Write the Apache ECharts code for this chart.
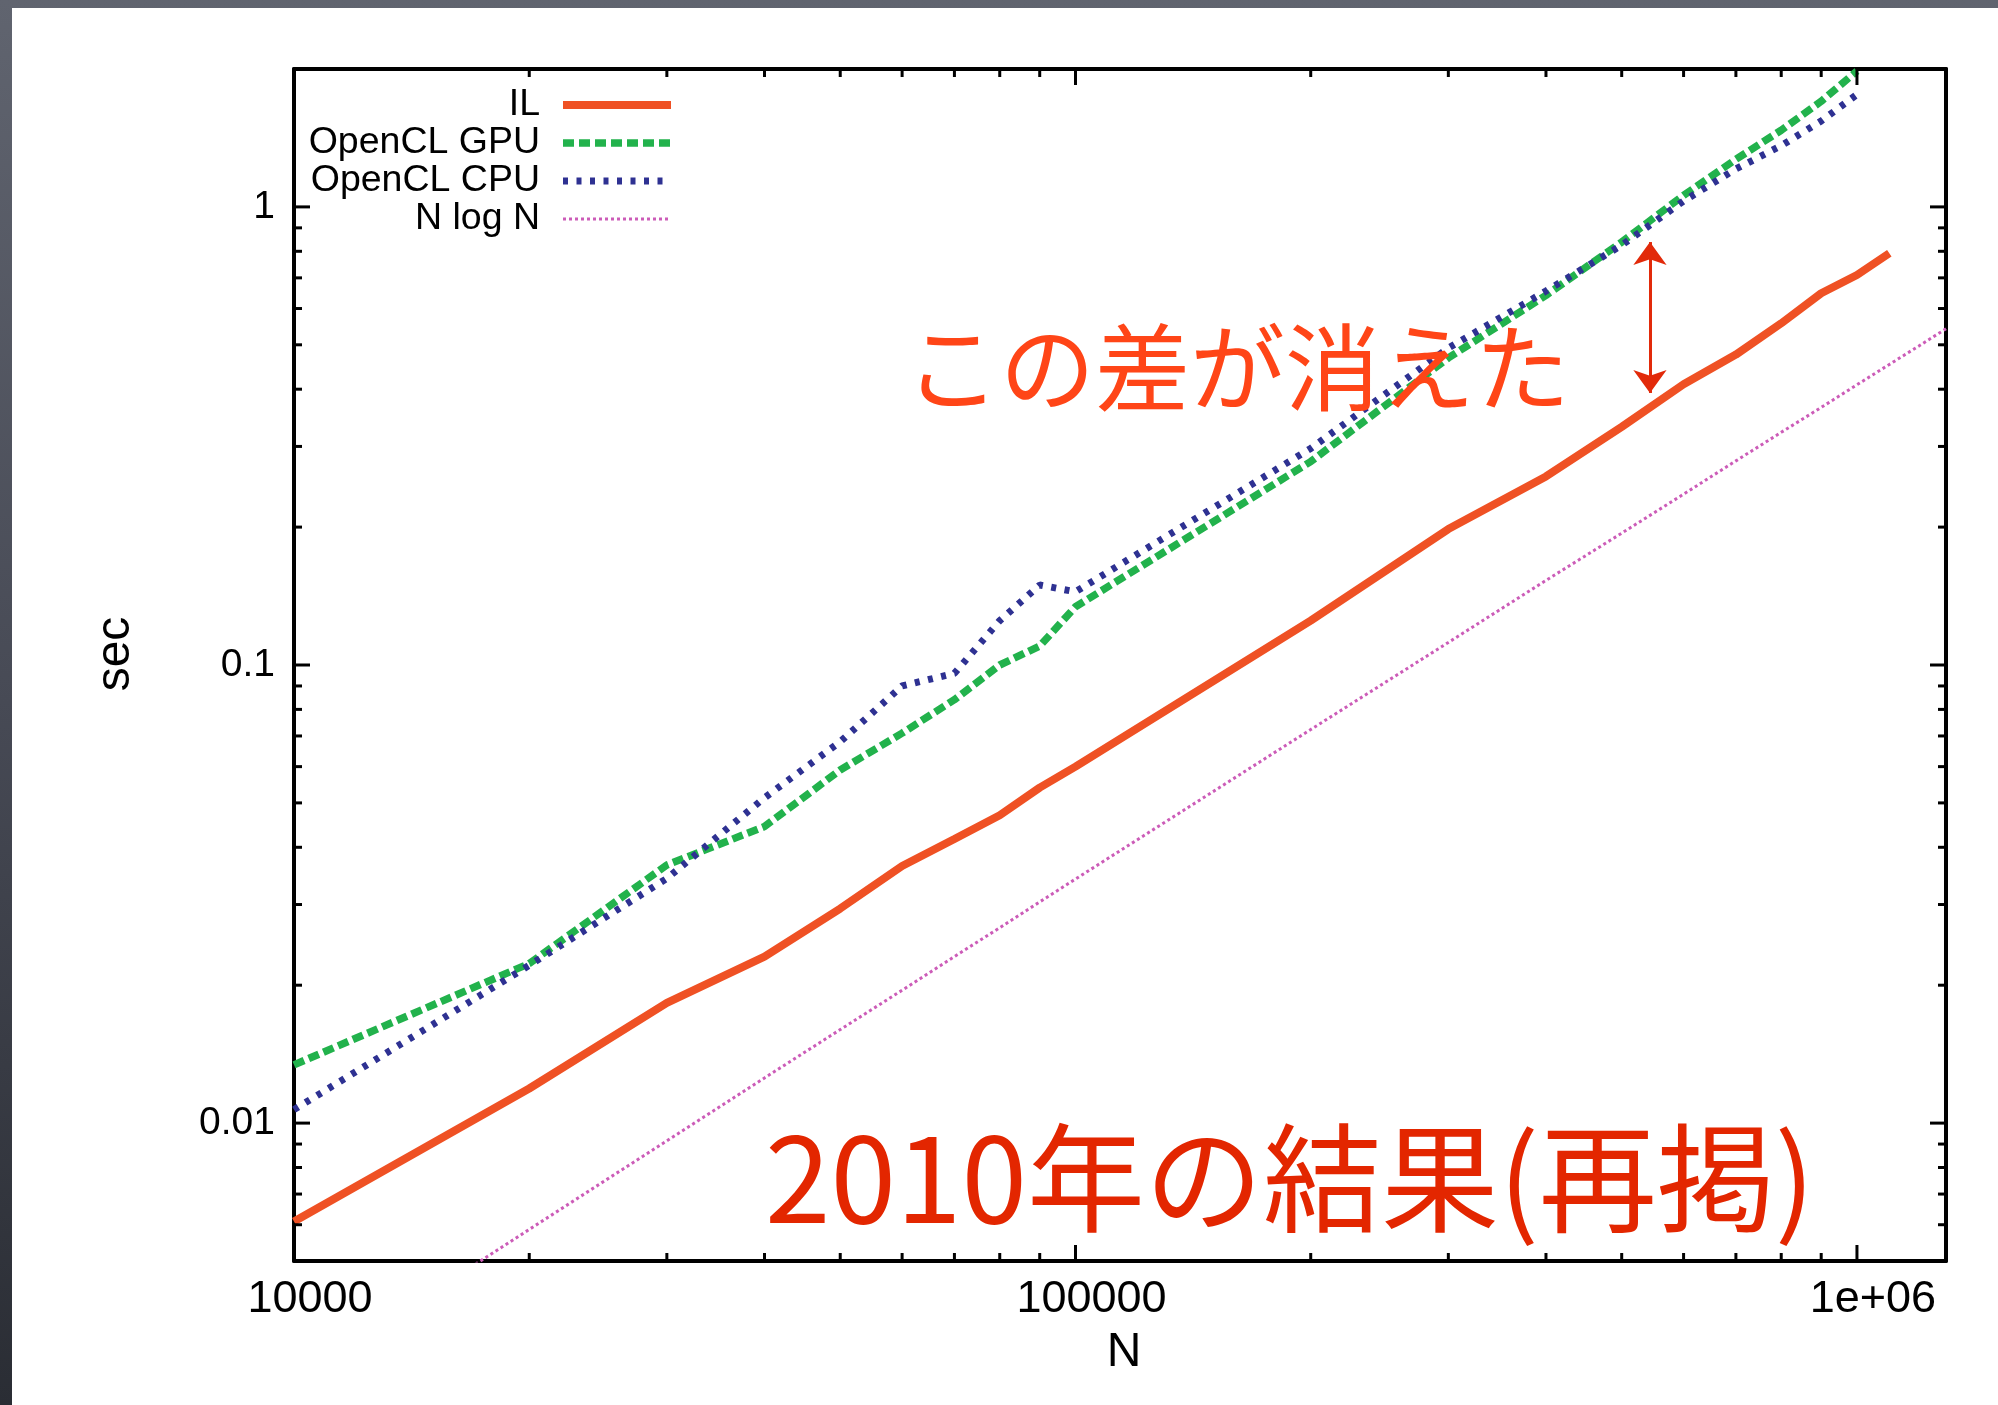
<!DOCTYPE html>
<html>
<head>
<meta charset="utf-8">
<script src="https://cdn.jsdelivr.net/npm/echarts@6/dist/echarts.min.js"></script>
<style>
html,body{margin:0;padding:0;width:1998px;height:1405px;overflow:hidden;
  background:linear-gradient(to bottom,#60646f 0%,#474a55 50%,#2a2d34 100%);}
#chart{position:absolute;left:12px;top:8px;width:1986px;height:1397px;background:#ffffff;}
</style>
</head>
<body>
<div id="chart"></div>
<script>
// ---- data ----
const nIL = [10000,20000,30000,40000,50000,60000,70000,80000,90000,100000,
             200000,300000,400000,500000,600000,700000,800000,900000,1000000,1100000];
const secIL = [0.0061,0.0119,0.0183,0.0231,0.0294,0.0364,0.0417,0.0470,0.0540,0.0600,
               0.125,0.198,0.258,0.331,0.410,0.476,0.557,0.648,0.710,0.792];

const nCL = [10000,20000,30000,40000,50000,60000,70000,80000,90000,100000,
             200000,300000,400000,500000,600000,700000,800000,900000,1000000];
const secGPU = [0.0134,0.0223,0.0366,0.0444,0.0590,0.0710,0.0840,0.1000,0.1100,0.1340,
                0.278,0.468,0.641,0.838,1.06,1.27,1.47,1.70,1.98];
const secCPU = [0.0107,0.0221,0.0342,0.0513,0.0680,0.0900,0.0959,0.1250,0.1495,0.1445,
                0.297,0.492,0.655,0.825,1.03,1.21,1.36,1.54,1.76];

const nRef = [10000,20000,30000,40000,50000,60000,70000,80000,90000,100000,
              200000,300000,400000,500000,600000,700000,800000,900000,1000000,1100000,1200000,1300000];
const secRef = [0.00273,0.00586,0.00915,0.01255,0.0160,0.0195,0.0231,0.0267,0.0304,0.0341,
                0.0723,0.112,0.153,0.194,0.236,0.279,0.322,0.365,0.409,0.453,0.497,0.542];

const seriesNames = ['IL','OpenCL GPU','OpenCL CPU','N log N'];

// ---- axes / ticks ----
const xRange = [10000, 1300000];
const yRange = [0.005, 2];
const xMajorTicks = [10000, 100000, 1000000];
const xTickLabels = ['10000', '100000', '1e+06'];
const xMinorTicks = [20000,30000,40000,50000,60000,70000,80000,90000,
                     200000,300000,400000,500000,600000,700000,800000,900000];
const yMajorTicks = [0.01, 0.1, 1];
const yTickLabels = ['0.01', '0.1', '1'];
const yMinorTicks = [0.006,0.007,0.008,0.009,
                     0.02,0.03,0.04,0.05,0.06,0.07,0.08,0.09,
                     0.2,0.3,0.4,0.5,0.6,0.7,0.8,0.9];

// ---- annotations ----
const arrowN = 543400;
const arrowTop = 0.838;
const arrowBottom = 0.3925;
const noteGap = 'この差が消えた';
const noteYear = '2010年の結果(再掲)';

const zip = (xs, ys) => xs.map((x, i) => [x, ys[i]]);

function labelFor(v, ticks, labels) {
  const lv = Math.log10(v);
  for (let i = 0; i < ticks.length; i++) {
    if (Math.abs(Math.log10(ticks[i]) - lv) < 1e-6) return labels[i];
  }
  return '';
}

const tickData = [];
xMajorTicks.forEach(v => tickData.push([v, yRange[0], 0]));
xMinorTicks.forEach(v => tickData.push([v, yRange[0], 1]));
yMajorTicks.forEach(v => tickData.push([xRange[0], v, 2]));
yMinorTicks.forEach(v => tickData.push([xRange[0], v, 3]));

function renderTick(params, api) {
  const cs = params.coordSys;
  const kind = api.value(2);
  const style = {stroke: '#000', lineWidth: 3};
  if (kind < 2) {
    const px = api.coord([api.value(0), yRange[0]])[0];
    const len = kind === 0 ? 16 : 8;
    const yb = cs.y + cs.height, yt = cs.y;
    return {type: 'group', children: [
      {type: 'line', shape: {x1: px, y1: yb, x2: px, y2: yb - len}, style: style},
      {type: 'line', shape: {x1: px, y1: yt, x2: px, y2: yt + len}, style: style}
    ]};
  } else {
    const py = api.coord([xRange[0], api.value(1)])[1];
    const len = kind === 2 ? 16 : 8;
    const xl = cs.x, xr = cs.x + cs.width;
    return {type: 'group', children: [
      {type: 'line', shape: {x1: xl, y1: py, x2: xl + len, y2: py}, style: style},
      {type: 'line', shape: {x1: xr, y1: py, x2: xr - len, y2: py}, style: style}
    ]};
  }
}

const FONT = '"Liberation Sans", Arial, Helvetica, sans-serif';
const CJK = '"Noto Sans CJK JP", "Noto Sans CJK SC", sans-serif';

const COLORS = ['#EF5124', '#22B24C', '#2E3192', '#CC5CB8'];
const WIDTHS = [8, 7.5, 7, 3];
const DASHES = ['solid', [11, 5], [5, 8.5], [3, 3]];

const axisLineStyle = {show: true, lineStyle: {color: '#000', width: 4}};

const chart = echarts.init(document.getElementById('chart'), null, {renderer: 'canvas'});
chart.setOption({
  animation: false,
  backgroundColor: '#ffffff',
  grid: {left: 282, top: 61, width: 1652, height: 1192},
  legend: {
    orient: 'vertical', align: 'right',
    right: 1323, top: 78, padding: 0, itemGap: 0,
    itemWidth: 108, itemHeight: 20,
    selectedMode: false,
    data: seriesNames.map((n, i) => ({
      name: n,
      lineStyle: {width: WIDTHS[i], type: DASHES[i], color: COLORS[i]},
      itemStyle: {opacity: 0, borderWidth: 0}
    })),
    itemStyle: {opacity: 0, borderWidth: 0},
    textStyle: {fontSize: 37.5, fontFamily: FONT, color: '#000', lineHeight: 37.6, padding: [0, 18, 0, 0]}
  },
  xAxis: [
    {type: 'log', logBase: 10, min: xRange[0], max: xRange[1], position: 'bottom',
     name: 'N', nameLocation: 'middle', nameGap: 68,
     nameTextStyle: {fontSize: 48, fontFamily: FONT, color: '#000', padding: [0, 0, 0, 8]},
     axisLine: axisLineStyle, axisTick: {show: false}, splitLine: {show: false}, minorTick: {show: false},
     axisLabel: {fontSize: 45, fontFamily: FONT, color: '#000', margin: 16, padding: [0, 0, 0, 32],
                 showMinLabel: true, showMaxLabel: false,
                 formatter: v => labelFor(v, xMajorTicks, xTickLabels)}},
    {type: 'log', logBase: 10, min: xRange[0], max: xRange[1], position: 'top',
     axisLine: axisLineStyle, axisTick: {show: false}, splitLine: {show: false}, axisLabel: {show: false}}
  ],
  yAxis: [
    {type: 'log', logBase: 10, min: yRange[0], max: yRange[1], position: 'left',
     name: 'sec', nameLocation: 'middle', nameGap: 154, nameRotate: 90,
     nameTextStyle: {fontSize: 48, fontFamily: FONT, color: '#000', padding: [0, 0, 0, 22]},
     axisLine: axisLineStyle, axisTick: {show: false}, splitLine: {show: false}, minorTick: {show: false},
     axisLabel: {fontSize: 39, fontFamily: FONT, color: '#000', margin: 19,
                 showMinLabel: false, showMaxLabel: false,
                 formatter: v => labelFor(v, yMajorTicks, yTickLabels)}},
    {type: 'log', logBase: 10, min: yRange[0], max: yRange[1], position: 'right',
     axisLine: axisLineStyle, axisTick: {show: false}, splitLine: {show: false}, axisLabel: {show: false}}
  ],
  series: [
    {name: seriesNames[0], type: 'line', data: zip(nIL, secIL), symbol: 'none', clip: true, z: 2,
     lineStyle: {color: COLORS[0], width: WIDTHS[0], type: DASHES[0]}, itemStyle: {color: COLORS[0]},
     markLine: {silent: true, symbol: ['arrow', 'arrow'], symbolSize: [25, 23],
                label: {show: false}, emphasis: {disabled: true},
                lineStyle: {color: '#E22A0A', width: 3, type: 'solid'},
                data: [[{coord: [arrowN, arrowTop]}, {coord: [arrowN, arrowBottom]}]]}},
    {name: seriesNames[1], type: 'line', data: zip(nCL, secGPU), symbol: 'none', clip: true, z: 3,
     lineStyle: {color: COLORS[1], width: WIDTHS[1], type: DASHES[1]}, itemStyle: {color: COLORS[1]}},
    {name: seriesNames[2], type: 'line', data: zip(nCL, secCPU), symbol: 'none', clip: true, z: 4,
     lineStyle: {color: COLORS[2], width: WIDTHS[2], type: DASHES[2]}, itemStyle: {color: COLORS[2]}},
    {name: seriesNames[3], type: 'line', data: zip(nRef, secRef), symbol: 'none', clip: true, z: 5,
     lineStyle: {color: COLORS[3], width: WIDTHS[3], type: DASHES[3]}, itemStyle: {color: COLORS[3]}},
    {type: 'custom', coordinateSystem: 'cartesian2d', renderItem: renderTick, data: tickData,
     dimensions: ['x', 'y', 'kind'], encode: {x: 0, y: 1}, silent: true, z: 10, clip: false}
  ],
  graphic: [
    {type: 'text', x: 893, y: 360, z: 100, silent: true,
     style: {text: noteGap, fill: '#FF4517', fontSize: 95, fontFamily: CJK, align: 'left', verticalAlign: 'middle'}},
    {type: 'text', x: 753, y: 1170, z: 100, silent: true,
     style: {text: noteYear, fill: '#E32600', fontSize: 118, fontFamily: CJK, align: 'left', verticalAlign: 'middle'}}
  ]
});
</script>
</body>
</html>
